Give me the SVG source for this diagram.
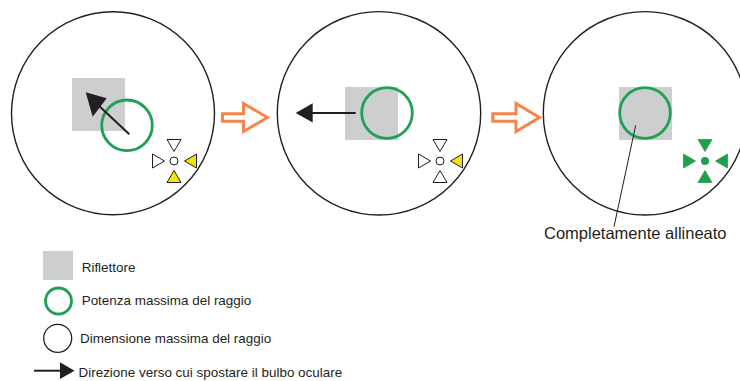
<svg xmlns="http://www.w3.org/2000/svg" width="740" height="381" viewBox="0 0 740 381">
<style>
.big{fill:none;stroke:#231f20;stroke-width:1.4}
.refl{fill:#cdcecf}
.beam{fill:none;stroke:#1fa055;stroke-width:2.8}
.ptr{stroke:#231f20;stroke-width:2;fill:none}
.head{fill:#231f20}
.tw{fill:#fff;stroke:#231f20;stroke-width:1}
.ty{fill:#f3e500;stroke:#231f20;stroke-width:1}
.tg{fill:#1f9e4e;stroke:#1f9e4e;stroke-width:0.8}
.step{fill:#fff;stroke:#f5844a;stroke-width:3;stroke-linejoin:miter}
.lbl{font-family:"Liberation Sans",Arial,sans-serif;fill:#231f20}
.leg{font-size:13.45px}
</style>
<defs>
<g id="tTop"><polygon points="-7,-21.5 7,-21.5 0,-9.5"/></g>
<g id="tBot"><polygon points="-7,21.5 7,21.5 0,9.5"/></g>
<g id="tLeft"><polygon points="-21.5,-7 -21.5,7 -9.5,0"/></g>
<g id="tRight"><polygon points="22.5,-7 22.5,7 10.5,0"/></g>
</defs>

<g id="panel1">
<circle class="big" cx="113" cy="113.3" r="101.5"/>
<rect class="refl" x="72" y="78" width="53" height="53"/>
<circle class="beam" cx="127" cy="125.3" r="25.3"/>
<line class="ptr" x1="129.3" y1="134.3" x2="97" y2="104"/>
<polygon class="head" points="85.7,92.3 106.7,98.3 92.7,116.7"/>
<g id="markers1" transform="translate(174,161)">
<use href="#tTop" class="tw"/>
<use href="#tLeft" class="tw"/>
<use href="#tRight" class="ty"/>
<use href="#tBot" class="ty"/>
<circle cx="0" cy="0" r="4" fill="#fff" stroke="#231f20" stroke-width="1"/>
</g>
</g>

<g id="panel2">
<circle class="big" cx="379" cy="113.3" r="101.7"/>
<rect class="refl" x="345" y="87" width="53" height="53"/>
<circle class="beam" cx="387" cy="113" r="25.3"/>
<line class="ptr" x1="355.7" y1="113" x2="310" y2="113"/>
<polygon class="head" points="295.7,113 312.7,103.3 312.7,122.5"/>
<g id="markers2" transform="translate(440,161)">
<use href="#tTop" class="tw"/>
<use href="#tLeft" class="tw"/>
<use href="#tRight" class="ty"/>
<use href="#tBot" class="tw"/>
<circle cx="0" cy="0" r="4" fill="#fff" stroke="#231f20" stroke-width="1"/>
</g>
</g>

<g id="panel3">
<circle class="big" cx="645" cy="113.3" r="101.7"/>
<rect class="refl" x="619" y="87" width="53" height="53"/>
<circle class="beam" cx="645" cy="113" r="25.3"/>
<line x1="635.7" y1="125.3" x2="614" y2="226.7" stroke="#231f20" stroke-width="1"/>
<text class="lbl" x="544" y="239.3" font-size="16.5">Completamente allineato</text>
<g id="markers3" transform="translate(705,161)">
<use href="#tTop" class="tg"/>
<use href="#tLeft" class="tg"/>
<use href="#tRight" class="tg"/>
<use href="#tBot" class="tg"/>
<circle cx="0" cy="0" r="4" fill="#1f9e4e"/>
</g>
</g>

<g id="connectors">
<path class="step" d="M222.5,113.8 H243.5 V103.5 L267.5,117.5 L243.5,131.5 V121.2 H222.5 Z"/>
<path class="step" d="M492.8,113.8 H516 V103.5 L539.5,117.5 L516,131.5 V121.2 H492.8 Z"/>
</g>

<g id="legend">
<rect class="refl" x="43" y="251" width="30" height="29"/>
<text class="lbl leg" x="81.7" y="271.7">Riflettore</text>
<circle class="beam" cx="58.5" cy="301" r="13"/>
<text class="lbl leg" x="81.7" y="304.7">Potenza massima del raggio</text>
<circle fill="none" stroke="#231f20" stroke-width="1.3" cx="57.7" cy="338.3" r="14"/>
<text class="lbl leg" x="80" y="343.3">Dimensione massima del raggio</text>
<line class="ptr" x1="34" y1="370.7" x2="61" y2="370.7"/>
<polygon class="head" points="60,362.3 74.5,370.7 60,379"/>
<text class="lbl leg" x="78.5" y="376.7">Direzione verso cui spostare il bulbo oculare</text>
</g>
</svg>
